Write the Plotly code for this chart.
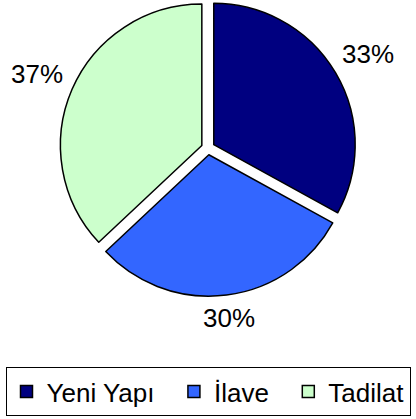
import math
import plotly.graph_objects as go

# Share of building permits by work type
categories = ["Yeni Yapı", "İlave", "Tadilat"]
shares = [33, 30, 37]
colors = ["#000080", "#3366FF", "#CCFFCC"]

# a little trailing room after the first two legend entries
legend_labels = [c + "\u00a0\u00a0" for c in categories[:-1]] + categories[-1:]

FONT = "Liberation Sans, Arial, Helvetica, sans-serif"
W, H = 416, 419
DOMAIN_X = [0.1, 0.9]
DOMAIN_Y = [0.293, 1.0]
PULL = 0.0475

fig = go.Figure(
    go.Pie(
        labels=legend_labels,
        values=shares,
        sort=False,
        direction="clockwise",
        rotation=0,
        pull=[PULL] * len(shares),
        marker=dict(colors=colors, line=dict(color="black", width=1.5)),
        textinfo="none",
        domain=dict(x=DOMAIN_X, y=DOMAIN_Y),
        hoverinfo="skip",
    )
)

# percentage labels placed outside each slice, along its bisector
total = sum(shares)
cx = (DOMAIN_X[0] + DOMAIN_X[1]) / 2
cy = (DOMAIN_Y[0] + DOMAIN_Y[1]) / 2
label_gap = 158  # px from pie centre to the nearest edge of a label
half_w, half_h = 26, 10  # rough half size of a label box, px
cum = 0
for v in shares:
    ang = math.radians((cum + v / 2) / total * 360)
    cum += v
    sx, sy = math.sin(ang), math.cos(ang)
    d = label_gap + half_w * abs(sx) + half_h * abs(sy)
    fig.add_annotation(
        x=cx + d * sx / W,
        y=cy + d * sy / H,
        xref="paper",
        yref="paper",
        text=f"{round(v / total * 100)}%",
        showarrow=False,
        xanchor="center",
        yanchor="middle",
        font=dict(family=FONT, size=26, color="black"),
    )

fig.update_layout(
    width=W,
    height=H,
    margin=dict(l=0, r=0, t=0, b=0, autoexpand=False),
    paper_bgcolor="white",
    plot_bgcolor="white",
    font=dict(family=FONT, color="black"),
    showlegend=True,
    legend=dict(
        orientation="h",
        x=0.5,
        xanchor="center",
        y=0.007,
        yanchor="bottom",
        bordercolor="black",
        borderwidth=1,
        font=dict(family=FONT, size=26, color="black"),
    ),
)

fig.write_html("out.html")
